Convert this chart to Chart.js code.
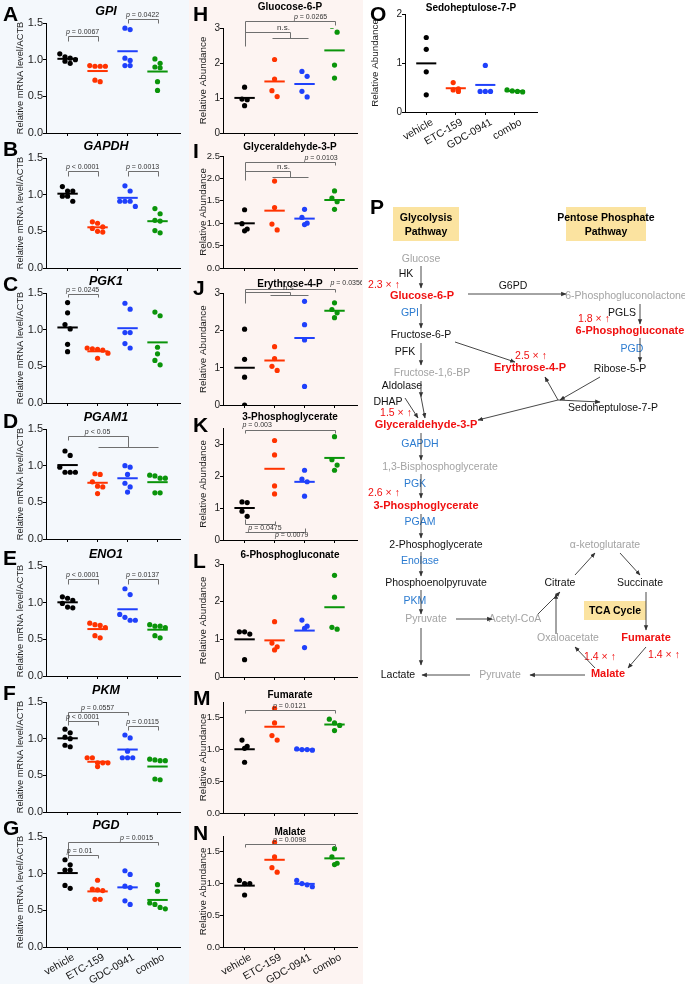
<!DOCTYPE html>
<html>
<head>
<meta charset="utf-8">
<script src="https://cdn.jsdelivr.net/npm/chart.js@4/dist/chart.umd.min.js"></script>
<style>
  body { margin: 0; background: #fff; font-family: "Liberation Sans", Arial, sans-serif; }
  #fig { position: relative; width: 685px; height: 984px; overflow: hidden; }
  .bgL { position: absolute; left: 0; top: 0; width: 189px; height: 984px; background: #f4f8fc; }
  .bgM { position: absolute; left: 189px; top: 0; width: 174px; height: 984px; background: #fdf4f2; }
  .lt { position: absolute; font-weight: bold; font-size: 21px; line-height: 21px; }
  canvas { position: absolute; }
  svg { position: absolute; left: 0; top: 0; }
</style>
</head>
<body>
<div id="fig">
  <div class="bgL"></div>
  <div class="bgM"></div>
</div>
<script>
const FONT = '"Liberation Sans", Arial, sans-serif';
const groups = ['vehicle', 'ETC-159', 'GDC-0941', 'combo'];
const colors = ['#000000', '#ff3300', '#1f40fb', '#0a940a'];

// --- mRNA levels (A-G), one list per group: vehicle, ETC-159, GDC-0941, combo ---
const gpi   = [[1.04, 1.02, 1.08, 1.00, 0.98, 0.95], [0.91, 0.91, 0.91, 0.92, 0.72, 0.70], [1.41, 1.43, 0.99, 1.02, 0.92, 0.92], [0.95, 1.01, 0.90, 0.89, 0.70, 0.58]];
const gapdh = [[1.05, 1.05, 1.11, 0.98, 0.98, 0.91], [0.56, 0.61, 0.63, 0.54, 0.50, 0.49], [1.05, 1.12, 0.91, 0.91, 0.91, 0.84], [0.74, 0.81, 0.65, 0.64, 0.51, 0.48]];
const pgk1  = [[1.37, 1.23, 1.07, 1.01, 0.80, 0.70], [0.74, 0.72, 0.73, 0.75, 0.68, 0.61], [1.28, 1.36, 0.96, 0.96, 0.81, 0.75], [1.19, 1.24, 0.76, 0.67, 0.58, 0.52]];
const pgam1 = [[1.14, 1.20, 0.98, 0.91, 0.91, 0.91], [0.88, 0.89, 0.78, 0.72, 0.71, 0.62], [0.98, 1.00, 0.88, 0.76, 0.71, 0.64], [0.86, 0.83, 0.83, 0.87, 0.63, 0.63]];
const eno1  = [[1.06, 1.03, 1.08, 0.99, 0.94, 0.93], [0.70, 0.69, 0.66, 0.72, 0.55, 0.52], [1.11, 1.19, 0.84, 0.80, 0.76, 0.76], [0.68, 0.68, 0.66, 0.70, 0.55, 0.52]];
const pkm   = [[1.08, 1.13, 1.02, 1.00, 0.91, 0.89], [0.74, 0.74, 0.67, 0.67, 0.67, 0.62], [1.01, 1.05, 0.83, 0.74, 0.74, 0.74], [0.71, 0.70, 0.70, 0.72, 0.45, 0.44]];
const pgd   = [[1.12, 1.19, 1.05, 1.05, 0.84, 0.80], [0.91, 0.79, 0.78, 0.77, 0.65, 0.65], [0.99, 1.04, 0.83, 0.81, 0.63, 0.58], [0.76, 0.85, 0.60, 0.58, 0.54, 0.52]];

// --- metabolite abundance (H-O) ---
const g6p  = [[1.31, 0.95, 0.97, 0.78], [2.10, 1.54, 1.21, 1.04], [1.76, 1.62, 1.19, 1.03], [3.05, 2.88, 1.94, 1.57]];
const g3p  = [[1.30, 0.99, 0.87, 0.83], [1.94, 1.35, 0.98, 0.85], [1.31, 1.13, 1.00, 0.97], [1.72, 1.56, 1.48, 1.31]];
const e4p  = [[2.04, 1.23, 0.75, 0.00], [1.57, 1.25, 1.04, 0.93], [2.79, 2.16, 1.75, 0.50], [2.75, 2.57, 2.48, 2.35]];
const pg3  = [[1.19, 1.17, 0.90, 0.74], [3.11, 2.66, 1.69, 1.44], [2.18, 1.90, 1.82, 1.37], [3.23, 2.51, 2.34, 2.18]];
const pg6  = [[1.20, 1.20, 1.14, 0.46], [1.47, 0.90, 0.80, 0.72], [1.51, 1.35, 1.29, 0.78], [2.70, 2.12, 1.32, 1.27]];
const fum  = [[1.15, 1.05, 1.02, 0.80], [1.65, 1.42, 1.22, 1.15], [1.01, 1.00, 1.00, 0.99], [1.48, 1.42, 1.38, 1.30]];
const mal  = [[1.05, 1.00, 1.00, 0.82], [1.65, 1.42, 1.25, 1.18], [1.05, 1.00, 0.98, 0.95], [1.55, 1.42, 1.32, 1.30]];
const sedo = [[1.52, 1.28, 0.82, 0.35], [0.60, 0.47, 0.45, 0.42], [0.95, 0.42, 0.42, 0.42], [0.45, 0.43, 0.42, 0.41]];

// --- significance brackets: a, b = groups (1-4), y = bar height, d = drop of the ends ---
const gpiP   = [{a: 1, b: 2, y: 1.32, d: 0.06, t: 'p = 0.0067'}, {a: 3, b: 4, y: 1.55, d: 0.05, t: 'p = 0.0422'}];
const gapdhP = [{a: 1, b: 2, y: 1.32, d: 0.06, t: 'p < 0.0001'}, {a: 3, b: 4, y: 1.32, d: 0.06, t: 'p = 0.0013'}];
const pgk1P  = [{a: 1, b: 2, y: 1.49, d: 0.05, t: 'p = 0.0245'}];
const pgam1P = [{a: 1, b: 3, y: 1.40, dA: 0.05, sub: [2, 4, 1.25], t: 'p < 0.05', tx: 2}];
const eno1P  = [{a: 1, b: 2, y: 1.32, d: 0.06, t: 'p < 0.0001'}, {a: 3, b: 4, y: 1.32, d: 0.06, t: 'p = 0.0137'}];
const pkmP   = [{a: 1, b: 3, y: 1.37, dA: 0.18, dB: 0.05, t: 'p = 0.0557'}, {a: 1, b: 2, y: 1.24, dA: 0, dB: 0.06, t: 'p < 0.0001'}, {a: 3, b: 4, y: 1.17, d: 0.05, t: 'p = 0.0115'}];
const pgdP   = [{a: 1, b: 4, y: 1.43, dA: 0.22, dB: 0.04, t: 'p = 0.0015', tx: 3.3}, {a: 1, b: 2, y: 1.26, dA: 0, dB: 0.05, t: 'p = 0.01', tx: 1.4}];
const g6pP   = [{a: 1, b: 4, y: 3.19, dA: 0.71, dB: 0.1, t: 'p = 0.0265', tx: 3.2}, {a: 1, b: 2.5, y: 2.89, dA: 0, sub: [1.9, 3.1, 2.71], t: 'n.s.', tx: 2.3}];
const g3pP   = [{a: 1, b: 4, y: 2.37, dA: 0.41, dB: 0.07, t: 'p = 0.0103', tx: 3.55}, {a: 1, b: 2.5, y: 2.16, dA: 0, sub: [1.9, 3.1, 2.04], t: 'n.s.', tx: 2.3}];
const e4pP   = [{a: 1, b: 4, y: 3.13, dA: 0.39, dB: 0.08, t: 'p = 0.0356', tx: 4.42, ty: 3.22}, {a: 1, b: 2.5, y: 3.05, dA: 0, sub: [1.85, 3.1, 2.97], t: 'n.s.', tx: 2.5}];
const pg3P   = [{a: 1, b: 4, y: 3.43, d: 0.1, t: 'p = 0.003', tx: 1.42, ty: 3.53},
                {a: 1, b: 2, y: 0.49, dA: -0.18, dB: -0.11, t: 'p = 0.0475', tx: 1.68, ty: 0.31},
                {a: 1, b: 3, y: 0.26, dA: 0, dB: -0.12, t: 'p = 0.0079', tx: 2.57, ty: 0.10}];
const fumP   = [{a: 1, b: 4, y: 1.62, dA: 0.05, dB: 0.05, t: 'p = 0.0121'}];
const malP   = [{a: 1, b: 4, y: 1.62, dA: 0.05, dB: 0.05, t: 'p = 0.0098'}];

const fig = document.getElementById('fig');

// --- draws "p = ..." with an italic p ---
function drawP(ctx, t, cx, by) {
  const size = 7;
  const it = `italic ${size}px ${FONT}`, rg = `${size}px ${FONT}`;
  ctx.fillStyle = '#333';
  ctx.textAlign = 'left';
  ctx.textBaseline = 'alphabetic';
  if (t[0] === 'p') {
    ctx.font = it; const w1 = ctx.measureText('p').width;
    ctx.font = rg; const rest = t.slice(1); const w2 = ctx.measureText(rest).width;
    const x0 = cx - (w1 + w2) / 2;
    ctx.font = it; ctx.fillText('p', x0, by);
    ctx.font = rg; ctx.fillText(rest, x0 + w1, by);
  } else {
    ctx.font = `${size + 1}px ${FONT}`;
    ctx.fillText(t, cx - ctx.measureText(t).width / 2, by);
  }
}

// --- panel title + significance brackets ---
function annotPlugin(o) {
  return {
    id: 'annot',
    afterDatasetsDraw(chart) {
      const {ctx, chartArea, scales: {x, y}} = chart;
      const X = v => Math.round(x.getPixelForValue(v)) + 0.5;
      const Y = v => Math.round(y.getPixelForValue(v)) + 0.5;
      ctx.save();
      ctx.fillStyle = '#000';
      ctx.font = `${o.italic ? 'italic ' : ''}bold ${o.tSize}px ${FONT}`;
      ctx.textAlign = 'center';
      ctx.textBaseline = 'middle';
      ctx.fillText(o.title, (chartArea.left + chartArea.right) / 2 + (o.titleDx || 0), o.titleY);

      ctx.strokeStyle = '#6f6f6f';
      ctx.lineWidth = 1;
      (o.br || []).forEach(b => {
        const dA = b.dA ?? b.d, dB = b.dB ?? b.d;
        ctx.beginPath();
        ctx.moveTo(X(b.a), Y(b.y - dA));
        ctx.lineTo(X(b.a), Y(b.y));
        ctx.lineTo(X(b.b), Y(b.y));
        if (b.sub) {
          ctx.lineTo(X(b.b), Y(b.sub[2]));
          ctx.moveTo(X(b.sub[0]), Y(b.sub[2]));
          ctx.lineTo(X(b.sub[1]), Y(b.sub[2]));
        } else {
          ctx.lineTo(X(b.b), Y(b.y - dB));
        }
        ctx.stroke();
        const tx = x.getPixelForValue(b.tx ?? (b.a + b.b) / 2);
        const ty = b.ty != null ? y.getPixelForValue(b.ty) : Y(b.y) - 2.5;
        drawP(ctx, b.t, tx, ty);
      });
      ctx.restore();
    }
  };
}

// --- spread points of similar height side by side (Prism-like rows) ---
function swarm(chart) {
  const sy = chart.scales.y, sx = chart.scales.x;
  const unit = sx.getPixelForValue(2) - sx.getPixelForValue(1);
  const d = 5.2;
  for (let g = 0; g < 4; g++) {
    const pts = chart.data.datasets[g].data.slice().sort((p, q) => q.y - p.y);
    const rows = [];
    let cur = [];
    pts.forEach(p => {
      if (cur.length && sy.getPixelForValue(p.y) - sy.getPixelForValue(cur[0].y) > d * 1.25) {
        rows.push(cur); cur = [];
      }
      cur.push(p);
    });
    if (cur.length) rows.push(cur);
    rows.forEach(r => r.forEach((p, k) => { p.x = g + 1 + (k - (r.length - 1) / 2) * d / unit; }));
  }
  chart.update('none');
}

// --- one dot plot ---
function dotChart(o) {
  const cv = document.createElement('canvas');
  cv.width = o.w; cv.height = o.h;
  cv.style.left = o.x + 'px';
  cv.style.top = o.y + 'px';
  fig.appendChild(cv);

  const datasets = [];
  o.data.forEach((vals, g) => {
    datasets.push({
      type: 'scatter',
      data: vals.map(v => ({x: g + 1, y: v})),
      backgroundColor: colors[g],
      borderWidth: 0,
      pointRadius: 2.6,
      pointHoverRadius: 2.6
    });
  });
  o.data.forEach((vals, g) => {
    const m = vals.reduce((s, v) => s + v, 0) / vals.length;
    datasets.push({
      type: 'line',
      data: [{x: g + 1 - 0.34, y: m}, {x: g + 1 + 0.34, y: m}],
      borderColor: colors[g],
      borderWidth: 2,
      pointRadius: 0
    });
  });

  const chart = new Chart(cv, {
    type: 'scatter',
    data: {datasets},
    options: {
      responsive: false,
      animation: false,
      events: [],
      layout: {padding: {left: 0, right: o.w - o.right, top: o.top, bottom: 0}},
      plugins: {legend: {display: false}, tooltip: {enabled: false}},
      scales: {
        x: {
          type: 'linear', min: 0.28, max: 4.75,
          afterBuildTicks: s => { s.ticks = [1, 2, 3, 4].map(v => ({value: v})); },
          afterFit: s => { s.height = o.h - o.bottom; },
          grid: {drawOnChartArea: false, tickLength: 3, color: '#000'},
          border: {color: '#000', width: 1},
          ticks: {
            display: !!o.labels, autoSkip: false, minRotation: 30, maxRotation: 30, padding: 1, labelOffset: 6,
            color: '#111', font: {family: FONT, size: 10.5},
            callback: v => groups[v - 1]
          }
        },
        y: {
          min: o.ymin, max: o.ymax,
          afterBuildTicks: s => { s.ticks = o.yticks.map(v => ({value: v})); },
          afterFit: s => { s.width = o.left; },
          grid: {drawOnChartArea: false, tickLength: 3, color: '#000'},
          border: {color: '#000', width: 1},
          ticks: {padding: 0, color: '#222', font: {family: FONT, size: o.tickSize}, callback: v => v.toFixed(o.dec)},
          title: {display: true, text: o.yTitle, color: '#222', padding: {top: o.yTitlePad, bottom: 0},
                  font: {family: FONT, size: o.yTitleSize, lineHeight: 1.2}}
        }
      }
    },
    plugins: [annotPlugin(o)]
  });
  swarm(chart);
  return chart;
}

// --- left column A-G ---
const leftPanels = [
  {title: 'GPI', data: gpi, br: gpiP, T: 23},
  {title: 'GAPDH', data: gapdh, br: gapdhP, T: 158},
  {title: 'PGK1', data: pgk1, br: pgk1P, T: 293},
  {title: 'PGAM1', data: pgam1, br: pgam1P, T: 429},
  {title: 'ENO1', data: eno1, br: eno1P, T: 566},
  {title: 'PKM', data: pkm, br: pkmP, T: 702},
  {title: 'PGD', data: pgd, br: pgdP, T: 837, labels: true}
];
leftPanels.forEach(p => {
  const y0 = p.T - 23;
  dotChart({
    x: 0, y: y0, w: 185, h: p.labels ? 984 - y0 : 141,
    left: 46, right: 180, top: 23, bottom: 133, titleY: 11.5, titleDx: -7,
    title: p.title, tSize: 12.5, italic: true, data: p.data, br: p.br,
    ymin: 0, ymax: 1.5, yticks: [0, 0.5, 1, 1.5], dec: 1, tickSize: 11,
    yTitle: 'Relative mRNA level/ACTB', yTitleSize: 9.3, yTitlePad: 15, labels: p.labels
  });
});

// --- middle column H-N ---
const midPanels = [
  {title: 'Gluocose-6-P', data: g6p, br: g6pP, top: 28, bottom: 133, titleY: 7.5, ymax: 3, yticks: [0, 1, 2, 3], dec: 0},
  {title: 'Glyceraldehyde-3-P', data: g3p, br: g3pP, top: 156, bottom: 268, titleY: 147, ymax: 2.5, yticks: [0, 0.5, 1, 1.5, 2, 2.5], dec: 1},
  {title: 'Erythrose-4-P', data: e4p, br: e4pP, top: 293, bottom: 405, titleY: 283.5, ymax: 3, yticks: [0, 1, 2, 3], dec: 0},
  {title: '3-Phosphoglycerate', data: pg3, br: pg3P, top: 428, bottom: 540, titleY: 417, ymax: 3.5, yticks: [0, 1, 2, 3], dec: 0},
  {title: '6-Phosphogluconate', data: pg6, br: [], top: 564, bottom: 677, titleY: 555, ymax: 3, yticks: [0, 1, 2, 3], dec: 0},
  {title: 'Fumarate', data: fum, br: fumP, top: 702, bottom: 813, titleY: 695, ymax: 1.75, yticks: [0, 0.5, 1, 1.5], dec: 1},
  {title: 'Malate', data: mal, br: malP, top: 836, bottom: 947, titleY: 832, ymax: 1.75, yticks: [0, 0.5, 1, 1.5], dec: 1, labels: true}
];
midPanels.forEach((p, i) => {
  const y0 = i === 0 ? 0 : p.titleY - 10;
  dotChart({
    x: 190, y: y0, w: 172, h: p.labels ? 984 - y0 : p.bottom - y0 + 8,
    left: 33, right: 167, top: p.top - y0, bottom: p.bottom - y0, titleY: p.titleY - y0,
    title: p.title, tSize: 10, italic: false, data: p.data, br: p.br,
    ymin: 0, ymax: p.ymax, yticks: p.yticks, dec: p.dec, tickSize: p.dec ? 9.5 : 10,
    yTitle: 'Relative Abundance', yTitleSize: 9.8, yTitlePad: 7, labels: p.labels
  });
});

// --- O ---
dotChart({
  x: 365, y: 0, w: 180, h: 160,
  left: 40, right: 172, top: 14, bottom: 112, titleY: 8,
  title: 'Sedoheptulose-7-P', tSize: 10, italic: false, data: sedo, br: [],
  ymin: 0, ymax: 2, yticks: [0, 1, 2], dec: 0, tickSize: 10,
  yTitle: 'Relative Abundance', yTitleSize: 9.8, yTitlePad: 4, labels: true
});

// --- panel letters ---
const letters = [['A', 3, 3], ['B', 3, 138], ['C', 3, 273], ['D', 3, 410], ['E', 3, 547], ['F', 3, 682], ['G', 3, 817],
                 ['H', 193, 3], ['I', 193, 140], ['J', 193, 277], ['K', 193, 414], ['L', 193, 550], ['M', 193, 687], ['N', 193, 822],
                 ['O', 370, 3], ['P', 370, 196]];
letters.forEach(([t, x, y]) => {
  const d = document.createElement('div');
  d.className = 'lt'; d.textContent = t;
  d.style.left = x + 'px'; d.style.top = y + 'px';
  fig.appendChild(d);
});

// --- P: pathway diagram ---
const GRAY = '#a3a3a3', RED = '#f01010', BLUE = '#2b7bd0', BLK = '#111';
const nodes = [
  [421, 262, 'Glucose', GRAY], [406, 277, 'HK', BLK], [384, 288, '2.3 × ↑', RED], [422, 299, 'Glucose-6-P', RED, 1],
  [513, 289, 'G6PD', BLK], [626, 299, '6-Phosphogluconolactone', GRAY], [410, 316, 'GPI', BLUE],
  [622, 316, 'PGLS', BLK], [594, 322, '1.8 × ↑', RED], [630, 334, '6-Phosphogluconate', RED, 1],
  [421, 338, 'Fructose-6-P', BLK], [405, 355, 'PFK', BLK], [632, 352, 'PGD', BLUE],
  [531, 359, '2.5 × ↑', RED], [530, 371, 'Erythrose-4-P', RED, 1], [620, 372, 'Ribose-5-P', BLK],
  [432, 376, 'Fructose-1,6-BP', GRAY], [402, 389, 'Aldolase', BLK], [388, 405, 'DHAP', BLK],
  [613, 411, 'Sedoheptulose-7-P', BLK], [396, 416, '1.5 × ↑', RED], [426, 428, 'Glyceraldehyde-3-P', RED, 1],
  [420, 447, 'GAPDH', BLUE], [440, 470, '1,3-Bisphosphoglycerate', GRAY], [415, 487, 'PGK', BLUE],
  [384, 496, '2.6 × ↑', RED], [426, 509, '3-Phosphoglycerate', RED, 1], [420, 525, 'PGAM', BLUE],
  [436, 548, '2-Phosphoglycerate', BLK], [605, 548, 'α-ketoglutarate', GRAY], [420, 564, 'Enolase', BLUE],
  [436, 586, 'Phosphoenolpyruvate', BLK], [560, 586, 'Citrate', BLK], [640, 586, 'Succinate', BLK],
  [415, 604, 'PKM', BLUE], [426, 622, 'Pyruvate', GRAY], [515, 622, 'Acetyl-CoA', GRAY],
  [568, 641, 'Oxaloacetate', GRAY], [646, 641, 'Fumarate', RED, 1], [600, 660, '1.4 × ↑', RED], [664, 658, '1.4 × ↑', RED],
  [608, 677, 'Malate', RED, 1], [500, 678, 'Pyruvate', GRAY], [398, 678, 'Lactate', BLK]
];
const arrows = [
  [421, 266, 421, 288], [468, 294, 566, 294], [421, 304, 421, 328], [421, 343, 421, 365], [455, 342, 515, 362],
  [640, 304, 640, 324], [640, 338, 640, 362], [421, 381, 421, 397], [405, 398, 418, 418], [421, 397, 425, 418],
  [558, 400, 545, 377], [558, 400, 478, 420], [558, 400, 600, 402], [600, 377, 560, 400],
  [421, 433, 421, 460], [421, 474, 421, 498], [421, 514, 421, 538], [421, 552, 421, 576], [421, 590, 421, 614],
  [456, 619, 492, 619], [538, 614, 560, 592], [575, 575, 595, 553], [620, 553, 640, 575], [646, 592, 646, 630],
  [646, 647, 628, 668], [595, 668, 575, 647], [556, 634, 556, 594], [585, 675, 530, 675], [470, 675, 422, 675],
  [421, 628, 421, 665]
];
const NS = 'http://www.w3.org/2000/svg';
const svg = document.createElementNS(NS, 'svg');
svg.setAttribute('width', 685); svg.setAttribute('height', 984);
svg.innerHTML = `<defs><marker id="ah" viewBox="0 0 10 10" refX="9" refY="5" markerWidth="6" markerHeight="6" orient="auto-start-reverse">
  <path d="M0,1 L10,5 L0,9 z" fill="#333"/></marker></defs>
  <rect x="393" y="207" width="66" height="34" fill="#fbe3a0"/>
  <rect x="566" y="207" width="80" height="34" fill="#fbe3a0"/>
  <rect x="584" y="601" width="62" height="19" fill="#fbe3a0"/>`;
[[426, 221, 'Glycolysis'], [426, 235, 'Pathway'], [606, 221, 'Pentose Phosphate'], [606, 235, 'Pathway'], [615, 614, 'TCA Cycle']].forEach(([x, y, t]) => {
  const e = document.createElementNS(NS, 'text');
  e.setAttribute('x', x); e.setAttribute('y', y); e.setAttribute('text-anchor', 'middle');
  e.setAttribute('font-size', '10.5'); e.setAttribute('font-weight', 'bold'); e.setAttribute('font-family', FONT);
  e.textContent = t; svg.appendChild(e);
});
nodes.forEach(([x, y, t, c, b]) => {
  const e = document.createElementNS(NS, 'text');
  e.setAttribute('x', x); e.setAttribute('y', y); e.setAttribute('text-anchor', 'middle');
  e.setAttribute('font-size', b ? '11' : '10.5'); e.setAttribute('fill', c); e.setAttribute('font-family', FONT);
  if (b) e.setAttribute('font-weight', 'bold');
  e.textContent = t; svg.appendChild(e);
});
arrows.forEach(([x1, y1, x2, y2]) => {
  const l = document.createElementNS(NS, 'line');
  l.setAttribute('x1', x1); l.setAttribute('y1', y1); l.setAttribute('x2', x2); l.setAttribute('y2', y2);
  l.setAttribute('stroke', '#333'); l.setAttribute('stroke-width', '0.9'); l.setAttribute('marker-end', 'url(#ah)');
  svg.appendChild(l);
});
fig.appendChild(svg);
</script>
</body>
</html>
